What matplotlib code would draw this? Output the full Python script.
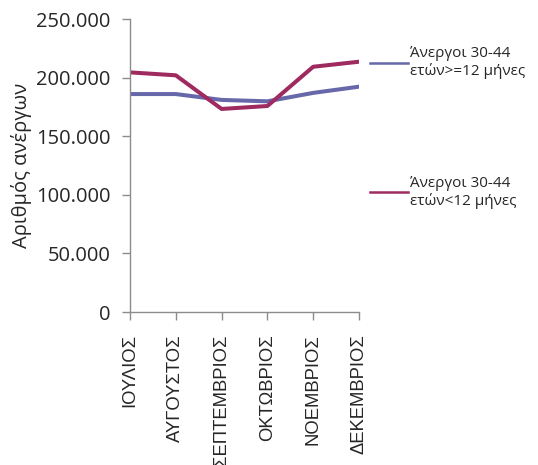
import matplotlib.pyplot as plt
from matplotlib.lines import Line2D

# Data
months = ["ΙΟΥΛΙΟΣ", "ΑΥΓΟΥΣΤΟΣ", "ΣΕΠΤΕΜΒΡΙΟΣ", "ΟΚΤΩΒΡΙΟΣ", "ΝΟΕΜΒΡΙΟΣ", "ΔΕΚΕΜΒΡΙΟΣ"]
long_term = [186000, 186000, 181000, 179800, 187000, 192300]
short_term = [204500, 202000, 173300, 175800, 209300, 213600]
labels = ["Άνεργοι 30-44\nετών>=12 μήνες", "Άνεργοι 30-44\nετών<12 μήνες"]

blue = "#6768AA"
maroon = "#9E2A60"
axis_gray = "#8C8C8C"
text_col = "#262626"

fig = plt.figure(figsize=(5.38, 4.65), dpi=100)
ax = fig.add_axes([0.2416, 0.329, 0.4257, 0.630])

x = range(len(months))
ax.plot(x, long_term, color=blue, lw=2.9)
ax.plot(x, short_term, color=maroon, lw=2.9)

ax.set_xlim(0, len(months) - 1)
ax.set_ylim(0, 250000)
yticks = list(range(0, 250001, 50000))
ax.set_yticks(yticks)
ax.set_yticklabels(["0" if v == 0 else f"{v:,}".replace(",", ".") for v in yticks],
                   fontfamily="Open Sans", fontsize=14.5, color=text_col)
ax.set_xticks(list(x))
ax.set_xticklabels(months, rotation=90, fontfamily="Liberation Sans", fontsize=13.3, color=text_col)

for side in ["top", "right"]:
    ax.spines[side].set_visible(False)
for side in ["left", "bottom"]:
    ax.spines[side].set_color(axis_gray)
    ax.spines[side].set_linewidth(1)
ax.tick_params(axis="both", color=axis_gray, length=6, width=1)
ax.tick_params(axis="y", pad=8)
ax.tick_params(axis="x", pad=10)

ax.set_ylabel("Αριθμός ανέργων", fontfamily="Open Sans", fontsize=14.5, color=text_col, labelpad=3)

handles = [Line2D([], [], color=blue, lw=1.8), Line2D([], [], color=maroon, lw=1.8)]
leg = ax.legend(handles, labels, loc="upper left", bbox_to_anchor=(1.0, 0.945), frameon=False,
                prop={"family": "Open Sans", "size": 11}, handlelength=2.5, handletextpad=0.15,
                labelspacing=6.3, borderaxespad=0.3)
for t in leg.get_texts():
    t.set_color(text_col)

fig.savefig("out.png", dpi=100)
